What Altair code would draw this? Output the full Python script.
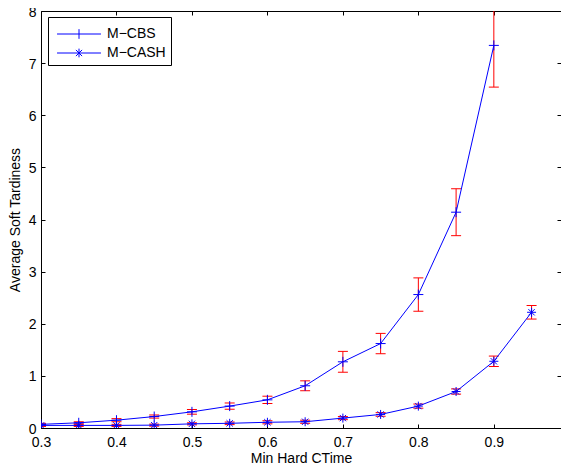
import altair as alt
import pandas as pd

# ---- data ----
series_names = ["M\u2212CBS", "M\u2212CASH"]

x_cbs = [0.30, 0.35, 0.40, 0.45, 0.50, 0.55, 0.60, 0.65, 0.70, 0.75, 0.80, 0.85, 0.90]
y_cbs = [0.07, 0.10, 0.15, 0.22, 0.31, 0.42, 0.54, 0.81, 1.27, 1.62, 2.56, 4.14, 7.34]
e_cbs = [0.02, 0.02, 0.03, 0.03, 0.045, 0.06, 0.07, 0.095, 0.20, 0.195, 0.32, 0.45, 0.80]

x_cash = [0.30, 0.35, 0.40, 0.45, 0.50, 0.55, 0.60, 0.65, 0.70, 0.75, 0.80, 0.85, 0.90, 0.95]
y_cash = [0.05, 0.05, 0.05, 0.055, 0.08, 0.09, 0.11, 0.12, 0.19, 0.26, 0.42, 0.70, 1.28, 2.22]
e_cash = [0.02, 0.02, 0.02, 0.02, 0.02, 0.025, 0.03, 0.03, 0.03, 0.035, 0.04, 0.05, 0.10, 0.13]

x_ticks = [0.3, 0.4, 0.5, 0.6, 0.7, 0.8, 0.9, 1.0]
y_ticks = [0, 1, 2, 3, 4, 5, 6, 7, 8]
x_domain = [0.3, 0.989]   # the reference figure is cut off just before x = 1
y_domain = [0, 8]


def frame(name, xs, ys, es):
    return pd.DataFrame({
        "series": name,
        "x": xs,
        "y": ys,
        "lo": [v - e for v, e in zip(ys, es)],
        "hi": [v + e for v, e in zip(ys, es)],
    })


df_cbs = frame(series_names[0], x_cbs, y_cbs, e_cbs)
df_cash = frame(series_names[1], x_cash, y_cash, e_cash)
df_all = pd.concat([df_cbs, df_cash], ignore_index=True)

FONT = "Liberation Sans"
BLUE = "#0000ff"
RED = "#ff0000"

PLUS = "M-1,0H1M0,-1V1"
STAR = "M-1,0H1M0,-1V1M-0.7,-0.7L0.7,0.7M-0.7,0.7L0.7,-0.7"
# legend symbols: a line sample with the marker in its middle (unit = 11.5px)
PLUS_LINE = "M-1.91,0H1.91M0,-0.42V0.42"
STAR_LINE = "M-1.91,0H1.91M0,-0.38V0.38M-0.27,-0.27L0.27,0.27M-0.27,0.27L0.27,-0.27"

xs = alt.Scale(domain=x_domain, nice=False, zero=False)
ys = alt.Scale(domain=y_domain, nice=False, zero=False)

common_axis = dict(
    grid=False, tickSize={"expr": "-4"}, tickColor="black", domainColor="black",
    domainWidth=1, labelFlush=False, labelOverlap=False, labelBound=False,
)

bottom_axis = alt.Axis(
    orient="bottom", values=x_ticks, format=".1~f", title="Min Hard CTime",
    labelFont=FONT, labelFontSize=14, labelColor="black", labelPadding=11,
    titleFont=FONT, titleFontSize=14, titleFontWeight="normal", titleColor="black",
    titleBaseline="alphabetic", titleY=34, domain=True, **common_axis,
)
left_axis = alt.Axis(
    orient="left", values=y_ticks, format="d", title="Average Soft Tardiness",
    labelFont=FONT, labelFontSize=14, labelColor="black", labelPadding=9,
    labelOffset=1,
    titleFont=FONT, titleFontSize=14, titleFontWeight="normal", titleColor="black",
    titleBaseline="alphabetic", titleX=-22, domain=True, **common_axis,
)
top_axis = alt.Axis(orient="top", values=x_ticks, labels=False, title=None,
                    domain=True, **common_axis)
right_axis = alt.Axis(orient="right", values=y_ticks, labels=False, title=None,
                      domain=False, **common_axis)

err_rule = alt.Chart(df_all).mark_rule(color=RED, strokeWidth=1, clip=True).encode(
    x=alt.X("x:Q", scale=xs, axis=None),
    y=alt.Y("lo:Q", scale=ys, axis=None),
    y2="hi:Q",
)
err_lo = alt.Chart(df_all).mark_tick(
    color=RED, size=10, thickness=1, orient="horizontal", clip=True, opacity=1
).encode(
    x=alt.X("x:Q", scale=xs, axis=None),
    y=alt.Y("lo:Q", scale=ys, axis=None),
)
err_hi = alt.Chart(df_all).mark_tick(
    color=RED, size=10, thickness=1, orient="horizontal", clip=True, opacity=1
).encode(
    x=alt.X("x:Q", scale=xs, axis=None),
    y=alt.Y("hi:Q", scale=ys, axis=None),
)

lines = alt.Chart(df_all).mark_line(color=BLUE, strokeWidth=1, clip=True).encode(
    x=alt.X("x:Q", scale=xs, axis=bottom_axis),
    y=alt.Y("y:Q", scale=ys, axis=left_axis),
    detail="series:N",
)

pts_cbs = alt.Chart(df_cbs).mark_point(
    shape=PLUS, size=100, filled=False, stroke=BLUE, strokeWidth=1, opacity=1, clip=True
).encode(
    x=alt.X("x:Q", scale=xs, axis=None),
    y=alt.Y("y:Q", scale=ys, axis=None),
)
pts_cash = alt.Chart(df_cash).mark_point(
    shape=STAR, size=81, filled=False, stroke=BLUE, strokeWidth=1, opacity=1, clip=True
).encode(
    x=alt.X("x:Q", scale=xs, axis=None),
    y=alt.Y("y:Q", scale=ys, axis=None),
)

legend_layer = alt.Chart(df_all).transform_filter("false").mark_point(
    filled=False, stroke=BLUE, strokeWidth=1, opacity=1
).encode(
    x=alt.X("x:Q", scale=xs, axis=top_axis),
    y=alt.Y("y:Q", scale=ys, axis=right_axis),
    shape=alt.Shape(
        "series:N",
        scale=alt.Scale(domain=series_names, range=[PLUS_LINE, STAR_LINE]),
        legend=alt.Legend(
            title=None, orient="none", legendX=7, legendY=6,
            fillColor="white", strokeColor="black", padding=5,
            symbolSize=529, symbolStrokeColor=BLUE, symbolStrokeWidth=1,
            symbolFillColor="transparent", symbolOffset=14,
            labelFont=FONT, labelFontSize=14, labelColor="black",
            labelOffset=16, rowPadding=0,
        ),
    ),
)

chart = alt.layer(
    err_rule, err_lo, err_hi, lines, pts_cbs, pts_cash, legend_layer
).resolve_axis(
    x="independent", y="independent"
).properties(
    width=520, height=417,
    autosize=alt.AutoSizeParams(type="none"),
    padding={"left": 33, "top": 3, "right": 0, "bottom": 40},
    background="white",
).configure_view(
    stroke=None
)

chart.save("out.html", embed_options={"renderer": "svg", "actions": False})
